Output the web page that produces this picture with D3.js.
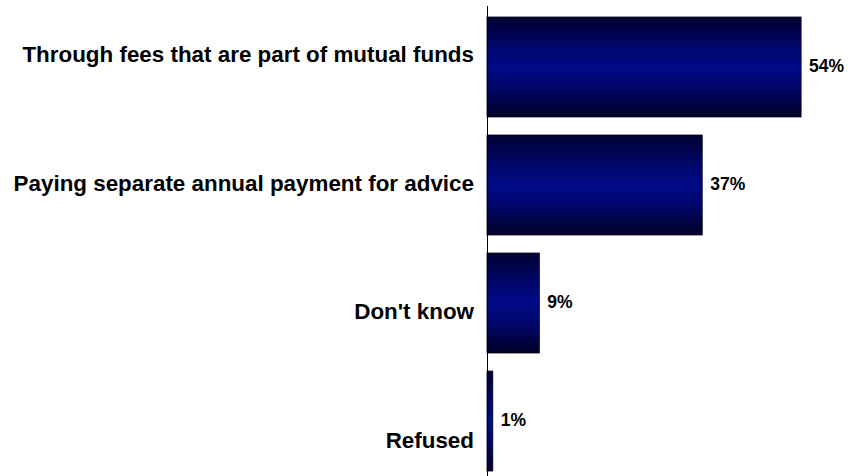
<!DOCTYPE html>
<html>
<head>
<meta charset="utf-8">
<script src="https://cdn.jsdelivr.net/npm/d3@7/dist/d3.min.js"></script>
<style>
  html, body { margin: 0; padding: 0; background: #ffffff; }
  svg { display: block; }
  text { font-family: "Liberation Sans", Arial, sans-serif; font-weight: bold; fill: #000; }
</style>
</head>
<body>
<svg id="chart" width="848" height="476"></svg>
<script>
// Survey answers and their shares (percent)
const categories = [
  "Through fees that are part of mutual funds",
  "Paying separate annual payment for advice",
  "Don't know",
  "Refused"
];
const values = [54, 37, 9, 1];
const valueLabels = ["54%", "37%", "9%", "1%"];

const svg = d3.select("#chart");
const axisX = 487;

// Horizontal value scale
const x = d3.scaleLinear().domain([0, 60]).range([axisX, axisX + 349]);

// Bar rows
const y = d3.scaleBand().domain(categories).range([17, 471]).paddingInner(0.153).paddingOuter(0);

// Category label rows (text sits on its own evenly spaced rows)
const yLabel = d3.scalePoint().domain(categories).range([54, 440]);

// Vertical shading on the bars: dark edges, brighter navy middle
const defs = svg.append("defs");
const grad = defs.append("linearGradient")
  .attr("id", "barShade").attr("x1", 0).attr("y1", 0).attr("x2", 0).attr("y2", 1);
[
  [0, "#000030"],
  [0.3, "#00066a"],
  [0.5, "#000a86"],
  [0.7, "#00066a"],
  [1, "#000026"]
].forEach(([o, c]) => grad.append("stop").attr("offset", o).attr("stop-color", c));

const rows = categories.map((c, i) => ({ cat: c, v: values[i], label: valueLabels[i] }));

// Bars
svg.append("g").selectAll("rect")
  .data(rows)
  .join("rect")
  .attr("x", x(0))
  .attr("y", d => y(d.cat))
  .attr("width", d => x(d.v) - x(0))
  .attr("height", y.bandwidth())
  .attr("fill", "url(#barShade)")
  .attr("stroke", "#000018")
  .attr("stroke-width", 0.8);

// Value labels to the right of each bar
svg.append("g").selectAll("text")
  .data(rows)
  .join("text")
  .attr("x", d => x(d.v) + 8)
  .attr("y", d => y(d.cat) + y.bandwidth() / 2 + 17.5 * 0.36 - 1.5)
  .attr("font-size", 17.5)
  .text(d => d.label);

// Category labels, right-aligned against the axis
svg.append("g").selectAll("text")
  .data(rows)
  .join("text")
  .attr("x", 474)
  .attr("y", d => yLabel(d.cat) + 22.4 * 0.36)
  .attr("text-anchor", "end")
  .attr("font-size", 22.4)
  .text(d => d.cat);

// Vertical category axis line
svg.append("line")
  .attr("x1", axisX + 0.5).attr("x2", axisX + 0.5)
  .attr("y1", 6).attr("y2", 476)
  .attr("stroke", "#000").attr("stroke-width", 1);
</script>
</body>
</html>
